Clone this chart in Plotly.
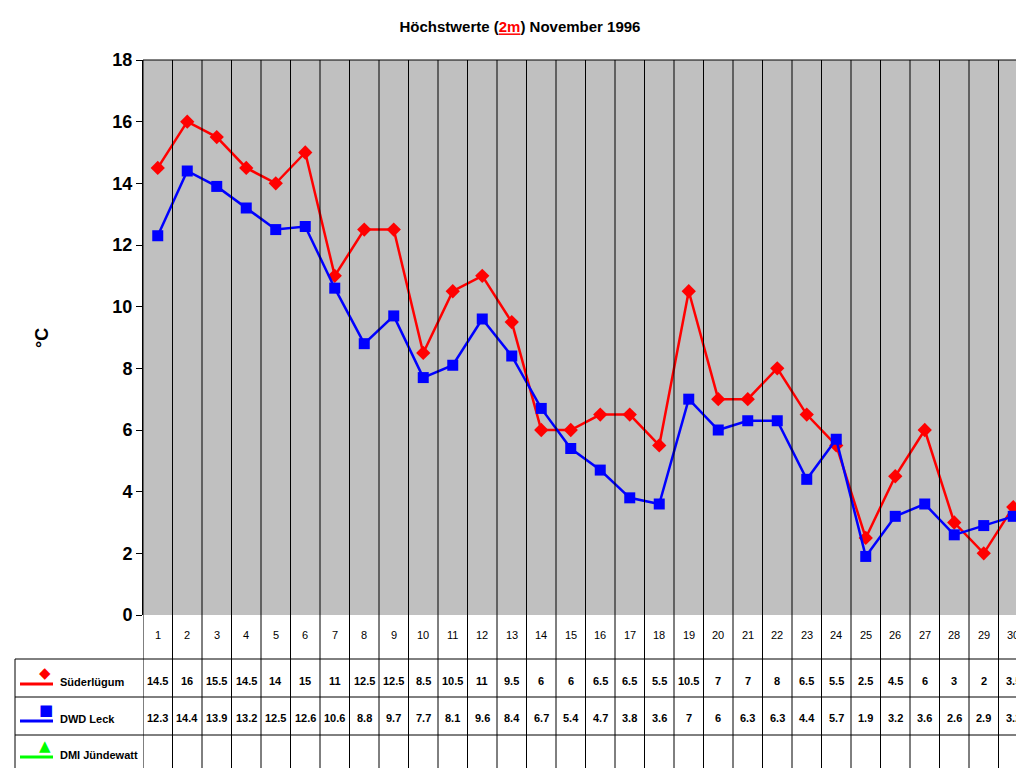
import plotly.graph_objects as go

days = list(range(1, 31))
suederluegum = [14.5, 16, 15.5, 14.5, 14, 15, 11, 12.5, 12.5, 8.5, 10.5, 11, 9.5, 6, 6,
                6.5, 6.5, 5.5, 10.5, 7, 7, 8, 6.5, 5.5, 2.5, 4.5, 6, 3, 2, 3.5]
dwd_leck = [12.3, 14.4, 13.9, 13.2, 12.5, 12.6, 10.6, 8.8, 9.7, 7.7, 8.1, 9.6, 8.4, 6.7, 5.4,
            4.7, 3.8, 3.6, 7, 6, 6.3, 6.3, 4.4, 5.7, 1.9, 3.2, 3.6, 2.6, 2.9, 3.2]
series_names = ["Süderlügum", "DWD Leck", "DMI Jündewatt"]
series_colors = ["#FF0000", "#0000FF", "#00FF00"]
series_glyphs = ["◆", "■", "▲"]

FONT = "Liberation Sans, Arial, sans-serif"
W, H = 1024, 768
L, R, T, B = 135, 4, 52, 161
pw, ph = W - L - R, H - T - B


def py(p):  # pixel row -> paper y
    return (H - B - p) / ph


def px(p):  # pixel col -> paper x
    return (p - L) / pw


fig = go.Figure()
fig.add_trace(go.Scatter(x=days, y=suederluegum, mode="lines+markers", name=series_names[0],
                         line=dict(color="#FF0000", width=2.5),
                         marker=dict(symbol="diamond", size=11, color="#FF0000")))
fig.add_trace(go.Scatter(x=days, y=dwd_leck, mode="lines+markers", name=series_names[1],
                         line=dict(color="#0000FF", width=2.5),
                         marker=dict(symbol="square", size=11, color="#0000FF")))

shapes = []
annotations = []
bottom = py(762)
# vertical column lines
for k in range(31):
    shapes.append(dict(type="line", xref="x", yref="paper", x0=k + 0.5, x1=k + 0.5,
                       y0=bottom, y1=1, line=dict(color="black", width=1)))
# horizontal row lines
for p in [651, 689, 727, 762]:
    shapes.append(dict(type="line", xref="paper", yref="paper", x0=px(7), x1=1,
                       y0=py(p), y1=py(p), line=dict(color="black", width=1)))
shapes.append(dict(type="line", xref="paper", yref="paper", x0=px(7), x1=px(7),
                   y0=py(651), y1=bottom, line=dict(color="black", width=1)))
shapes.append(dict(type="line", xref="paper", yref="paper", x0=0, x1=1, y0=1, y1=1,
                   line=dict(color="black", width=1)))

for d in days:
    annotations.append(dict(x=d, y=py(635), xref="x", yref="paper", text=str(d),
                            showarrow=False, font=dict(size=11, family=FONT, color="black")))
for vals, yp in [(suederluegum, 681), (dwd_leck, 718)]:
    for d, v in zip(days, vals):
        annotations.append(dict(x=d, y=py(yp), xref="x", yref="paper", text=f"<b>{v:g}</b>",
                                showarrow=False, font=dict(size=11, family=FONT, color="black")))

for i, (name, col, gl) in enumerate(zip(series_names, series_colors, series_glyphs)):
    ly = [676, 713, 749][i]
    shapes.append(dict(type="line", xref="paper", yref="paper", x0=px(12), x1=px(45),
                       y0=py(ly), y1=py(ly), line=dict(color=col, width=3)))
    annotations.append(dict(x=px(28.5), y=py(ly), xref="paper", yref="paper", text=gl,
                            showarrow=False, font=dict(size=15, color=col, family="DejaVu Sans")))
    annotations.append(dict(x=px(50), y=py(ly + 6), xref="paper", yref="paper",
                            text=f"<b>{name}</b>", xanchor="left", showarrow=False,
                            font=dict(size=11, family=FONT, color="black")))

annotations.append(dict(x=px(22), y=py(330), xref="paper", yref="paper", text="<b>°C</b>",
                        showarrow=False, textangle=-90,
                        font=dict(size=18, family=FONT, color="black")))

fig.update_layout(
    width=W, height=H, autosize=False,
    margin=dict(l=L, r=R, t=T, b=B),
    paper_bgcolor="white", plot_bgcolor="#C0C0C0",
    showlegend=False,
    title=dict(text="<b>Höchstwerte (<span style='color:red'><u>2m</u></span>) November 1996</b>",
               x=0.5, xanchor="center", y=0.975, yanchor="middle",
               font=dict(size=15, family=FONT, color="black")),
    xaxis=dict(range=[0.5, 30.5], showticklabels=False, showgrid=False, zeroline=False,
               ticks=""),
    yaxis=dict(range=[0, 18], dtick=2, showgrid=False, zeroline=False, ticks="outside",
               ticklen=6, tickcolor="black", showline=True, linecolor="black",
               tickfont=dict(size=18, family=FONT + "; font-weight:bold", color="black")),
    shapes=shapes, annotations=annotations,
)
fig.update_yaxes(tickprefix="<b>", ticksuffix="</b>",
                 tickfont=dict(size=18, family=FONT, color="black"))

fig.write_html("out.html")
